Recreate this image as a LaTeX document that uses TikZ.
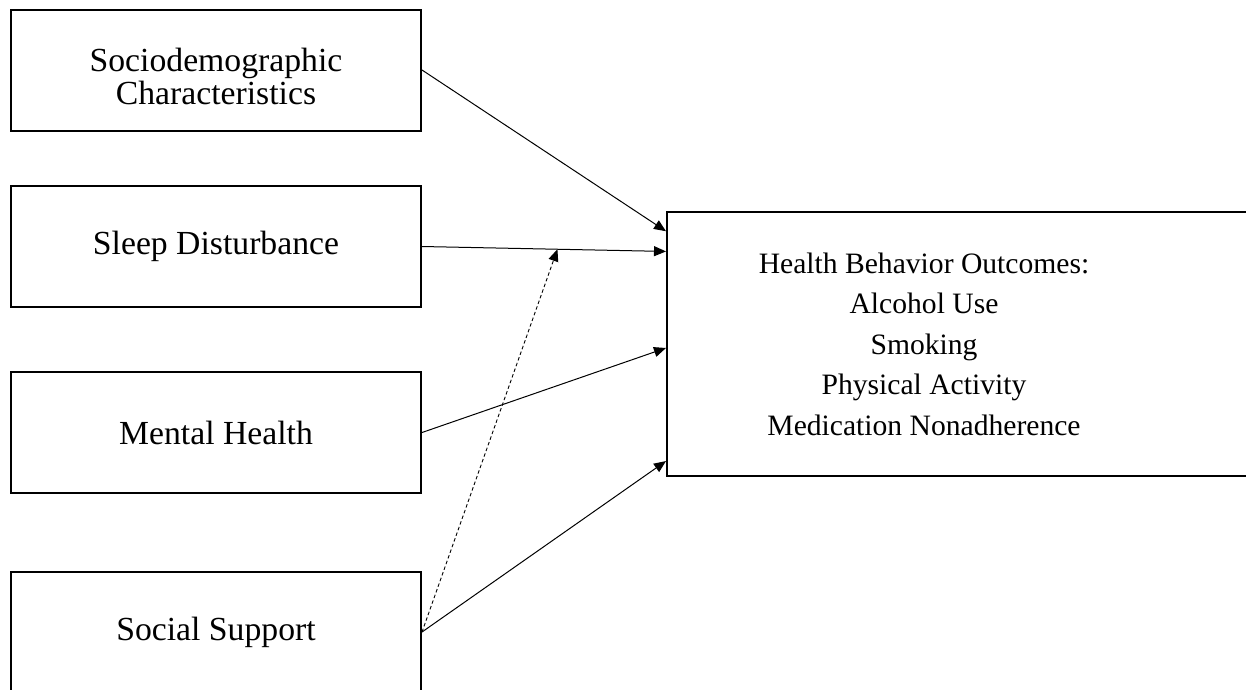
\documentclass[tikz,border=0pt]{standalone}
\usepackage{fontspec}
\setmainfont{Liberation Serif}
\usetikzlibrary{arrows.meta,calc}
\begin{document}
\begin{tikzpicture}[x=1pt,y=-1pt,
  box/.style={draw,line width=2pt,minimum width=410pt,minimum height=121pt,inner sep=0pt,align=center,font=\fontsize{33.7}{33.5}\selectfont},
  outbox/.style={draw,line width=2pt,minimum width=633pt,minimum height=264pt,inner sep=0pt},
  outtext/.style={align=center,inner sep=0pt,font=\fontsize{29.6}{40.5}\selectfont},
  arr/.style={line width=1pt,-{Triangle[length=12pt,width=10pt]}},
  dasharr/.style={arr,line width=0.9pt,dash pattern=on 3.5pt off 2.5pt}]
\useasboundingbox (0,0) rectangle (1246,689);
\clip (0,0) rectangle (1246,689);
\node[box] (sd) at (216,70) {\rule{0pt}{36pt}Sociodemographic\\Characteristics};
\node[box] (sl) at (216,246.5) {Sleep Disturbance};
\node[box] (mh) at (216,432.5) {Mental Health};
\node[box] (ss) at (216,632) {Social Support};
\node[outbox] (out) at (983.5,344) {};
\node[outtext] (outt) at (924,344) {Health Behavior Outcomes:\\Alcohol Use\\Smoking\\Physical Activity\\Medication Nonadherence};
\coordinate (e1) at ($(out.north west)!0.076!(out.south west)$);
\coordinate (e2) at ($(out.north west)!0.152!(out.south west)$);
\coordinate (e3) at ($(out.north west)!0.515!(out.south west)$);
\coordinate (e4) at ($(out.north west)!0.94!(out.south west)$);
\coordinate (mod) at ($(sl.east)!0.555!(e2)$);
\draw[arr] (sd.east) -- (e1);
\draw[arr] (sl.east) -- (e2);
\draw[arr] (mh.east) -- (e3);
\draw[arr] (ss.east) -- (e4);
\draw[dasharr] (ss.east) -- (mod);
\end{tikzpicture}
\end{document}
